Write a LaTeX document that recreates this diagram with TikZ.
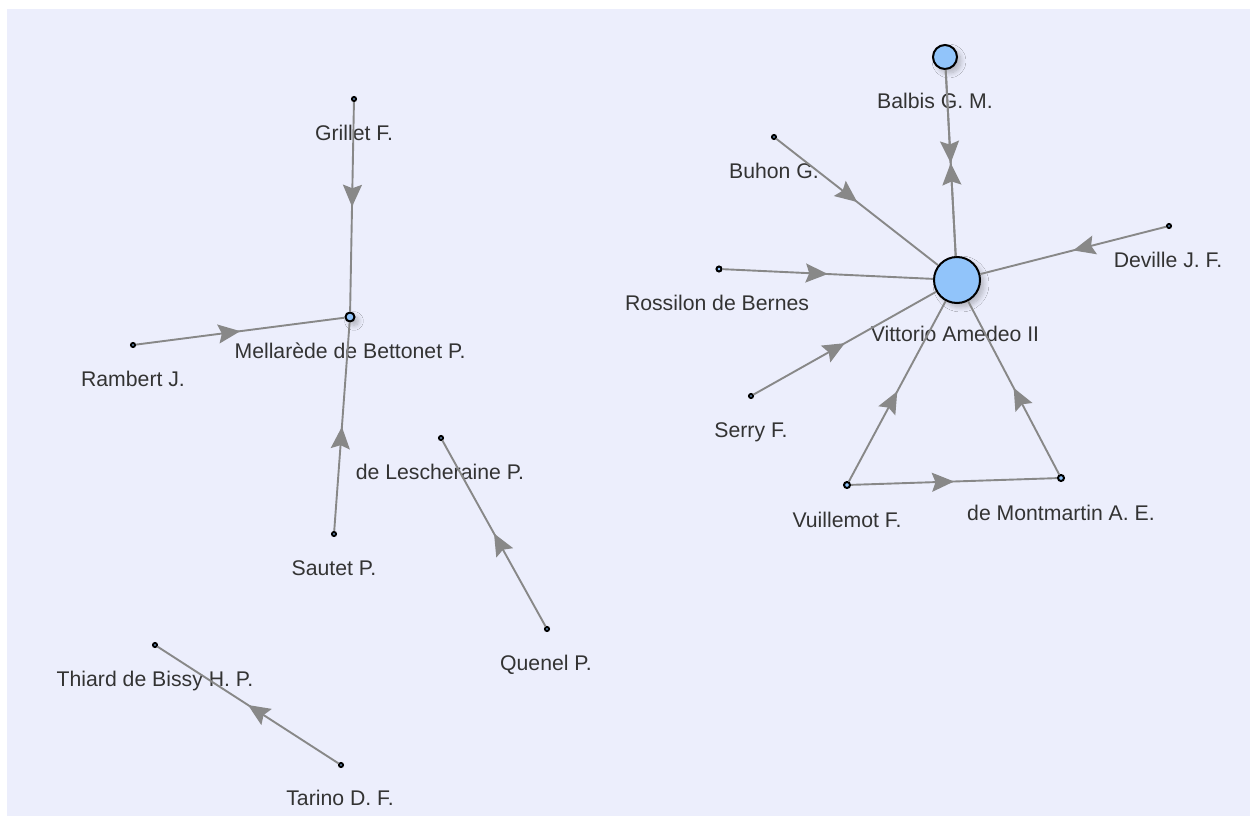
\documentclass[tikz,border=0pt]{standalone}
\usepackage{fontspec}
\setmainfont{Liberation Sans}
\usetikzlibrary{arrows.meta,decorations.markings,shadows.blur}
\definecolor{bg}{RGB}{236,238,252}
\definecolor{nodeblue}{RGB}{145,196,250}
\definecolor{edgegray}{RGB}{136,136,136}
\definecolor{labelgray}{RGB}{51,51,51}
\begin{document}
\begin{tikzpicture}[x=1bp,y=-1bp,
  vertex/.style={circle,draw=black,fill=nodeblue,line width=2bp,inner sep=0pt,
    minimum size=#1,blur shadow={shadow xshift=4bp,shadow yshift=-4bp,shadow opacity=25,shadow blur steps=10,shadow blur radius=5bp}},
  dotnode/.style={circle,draw=black,fill=nodeblue,line width=2bp,inner sep=0pt,minimum size=#1},
  dotnode/.default=4bp,
  lbl/.style={anchor=base,text=labelgray,font=\fontsize{21.3}{25}\selectfont,inner sep=0pt},
  link/.style={draw=edgegray,line width=1.9bp,postaction={decorate},
    decoration={markings,mark=at position 0.5 with
      {\arrow[edgegray]{Stealth[length=22bp,width=19bp,inset=3.5bp]}}}}]
% canvas
\useasboundingbox (0,0) rectangle (1250,816);
\fill[white] (0,0) rectangle (1250,816);
\fill[bg] (7,9) rectangle (1250,816);

% vertices
\node[vertex=24bp] (balbis) at (945,57) {};
\node[vertex=46bp] (vittorio) at (957,280) {};
\node[vertex=9bp] (mellarede) at (350,317) {};
\node[dotnode] (buhon) at (774,137) {};
\node[dotnode] (deville) at (1169,226) {};
\node[dotnode=5bp] (rossilon) at (719,269) {};
\node[dotnode] (serry) at (751,396) {};
\node[dotnode=6bp] (vuillemot) at (847,485) {};
\node[dotnode=6bp] (montmartin) at (1061,478) {};
\node[dotnode] (grillet) at (354,99) {};
\node[dotnode] (rambert) at (133,345) {};
\node[dotnode] (sautet) at (334,534) {};
\node[dotnode] (lescheraine) at (441,438) {};
\node[dotnode] (quenel) at (547,629) {};
\node[dotnode] (thiard) at (155,645) {};
\node[dotnode] (tarino) at (341,765) {};

% labels
\node[lbl] (lbalbis) at (935,109) {Balbis G. M.};
\node[lbl] (lvittorio) at (955,341) {Vittorio Amedeo II};
\node[lbl] (lbuhon) at (774,178) {Buhon G.};
\node[lbl] (ldeville) at (1168,267) {Deville J. F.};
\node[lbl] (lrossilon) at (717,310) {Rossilon de Bernes};
\node[lbl] (lserry) at (751,437) {Serry F.};
\node[lbl] (lvuillemot) at (847,527) {Vuillemot F.};
\node[lbl] (lmontmartin) at (1061,520) {de Montmartin A. E.};
\node[lbl] (lgrillet) at (354,140) {Grillet F.};
\node[lbl] (lmellarede) at (350,358) {Mellarède de Bettonet P.};
\node[lbl] (lrambert) at (133,386) {Rambert J.};
\node[lbl] (lsautet) at (334,575) {Sautet P.};
\node[lbl] (llescheraine) at (440,479) {de Lescheraine P.};
\node[lbl] (lquenel) at (546,670) {Quenel P.};
\node[lbl] (lthiard) at (155,686) {Thiard de Bissy H. P.};
\node[lbl] (ltarino) at (340,805) {Tarino D. F.};

% directed links
\draw[link] (balbis) -- (vittorio);
\draw[link] (vittorio) -- (balbis);
\draw[link] (buhon) -- (vittorio);
\draw[link] (deville) -- (vittorio);
\draw[link] (rossilon) -- (vittorio);
\draw[link] (serry) -- (vittorio);
\draw[link] (vuillemot) -- (vittorio);
\draw[link] (montmartin) -- (vittorio);
\draw[link] (vuillemot) -- (montmartin);
\draw[link] (grillet) -- (mellarede);
\draw[link] (rambert) -- (mellarede);
\draw[link] (sautet) -- (mellarede);
\draw[link] (quenel) -- (lescheraine);
\draw[link] (tarino) -- (thiard);
\end{tikzpicture}
\end{document}
